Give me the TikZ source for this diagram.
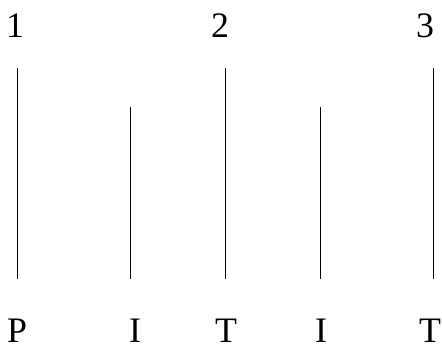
\documentclass[tikz,border=0pt]{standalone}
\usepackage{fontspec}
\setmainfont{Liberation Serif}
\begin{document}
\begin{tikzpicture}[x=1bp,y=1bp,
  lab/.style={anchor=base,inner sep=0pt,font=\fontsize{36}{40}\selectfont},
  bar/.style={line width=1pt}]
  \useasboundingbox (0,0) rectangle (442,344);
  % numbers on top
  \node[lab] (n1) at (15,307) {1};
  \node[lab] (n2) at (220,307) {2};
  \node[lab] (n3) at (425,307) {3};
  % the bars
  \draw[bar] (17,65) -- (17,276);
  \draw[bar] (130,65) -- (130,237);
  \draw[bar] (225,65) -- (225,276);
  \draw[bar] (320,65) -- (320,237);
  \draw[bar] (433,65) -- (433,276);
  % letters below
  \node[lab] (p) at (17,2) {P};
  \node[lab] (i1) at (135,2) {I};
  \node[lab] (t1) at (226,2) {T};
  \node[lab] (i2) at (321,2) {I};
  \node[lab] (t2) at (430,2) {T};
\end{tikzpicture}
\end{document}
